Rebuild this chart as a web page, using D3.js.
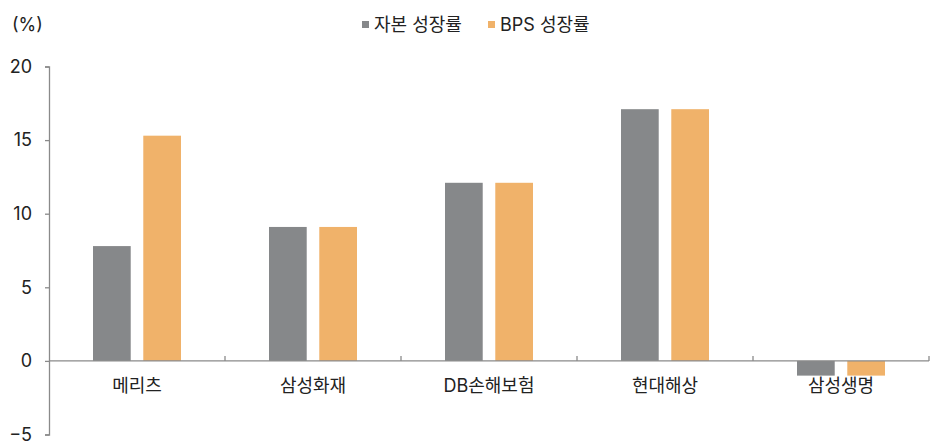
<!DOCTYPE html>
<html><head><meta charset="utf-8">
<script src="https://cdn.jsdelivr.net/npm/d3@7"></script>
<style>body{margin:0;background:#fff;} text{font-family:"Inter","Noto Sans CJK KR",sans-serif;}</style>
</head><body>
<svg id="c" width="933" height="442"></svg>
<script>
const categories = ["메리츠","삼성화재","DB손해보험","현대해상","삼성생명"];
const seriesNames = ["자본 성장률","BPS 성장률"];
const capitalGrowth = [7.8, 9.1, 12.1, 17.1, -1.0];
const bpsGrowth = [15.3, 9.1, 12.1, 17.1, -1.0];
const yTicks = [20, 15, 10, 5, 0, -5];
const colors = ["#86888a", "#f0b26a"];

(function () {
const svg = d3.select("#c");
const FONT = "Inter,'Noto Sans CJK KR',sans-serif";
const mLeft = 49, mRight = 929, mTop = 66.5, mBottom = 434.5;
const y = d3.scaleLinear().domain([-5, 20]).range([mBottom, mTop]);
const x0 = d3.scaleBand().domain(categories).range([mLeft, mRight]).paddingInner(0.5).paddingOuter(0.25);
const x1 = d3.scaleBand().domain(seriesNames).range([0, x0.bandwidth()]).paddingInner(0.25).paddingOuter(0);
const seriesVals = [capitalGrowth, bpsGrowth];

// bars
seriesNames.forEach((s, si) => {
  svg.append("g").selectAll("rect").data(categories).join("rect")
    .attr("x", (c) => x0(c) + x1(s))
    .attr("width", x1.bandwidth())
    .attr("y", (c, i) => y(Math.max(0, seriesVals[si][i])))
    .attr("height", (c, i) => Math.abs(y(seriesVals[si][i]) - y(0)))
    .attr("fill", colors[si]);
});

// y axis
const ya = svg.append("g").attr("transform", `translate(${mLeft},0)`)
  .call(d3.axisLeft(y).tickValues(yTicks).tickSize(4).tickPadding(13).tickFormat(d => d < 0 ? "\u2212" + Math.abs(d) : d));
ya.select(".domain").attr("stroke", "#8a8a8a").attr("stroke-width", 1.3);
ya.selectAll(".tick line").attr("stroke", "#8a8a8a").attr("stroke-width", 1.3);
ya.selectAll("text").attr("fill", "#222").style("font-size", "18px").style("font-family", FONT);

// x axis at zero
const xb = svg.append("g").attr("transform", `translate(0,${y(0)})`);
xb.append("line").attr("x1", mLeft).attr("x2", mRight).attr("stroke", "#8a8a8a").attr("stroke-width", 1.3);
const bounds = categories.map(c => x0(c) + x0.bandwidth() / 2 + x0.step() / 2);
xb.selectAll("line.t").data(bounds).join("line").attr("class", "t")
  .attr("x1", d => d).attr("x2", d => d).attr("y1", 0).attr("y2", -5)
  .attr("stroke", "#8a8a8a").attr("stroke-width", 1.3);
xb.selectAll("text").data(categories).join("text")
  .attr("x", c => x0(c) + x0.bandwidth() / 2).attr("y", 31)
  .attr("text-anchor", "middle").attr("fill", "#222").style("font-size", "18px")
  .text(c => c);

// unit label
svg.append("text").attr("x", 12).attr("y", 31).attr("fill", "#222").style("font-size", "18px").text("(%)");

// legend
const legX = [362, 488];
seriesNames.forEach((s, i) => {
  svg.append("rect").attr("x", legX[i]).attr("y", 21).attr("width", 7).attr("height", 7).attr("fill", colors[i]);
  svg.append("text").attr("x", legX[i] + 12).attr("y", 31).attr("fill", "#222").style("font-size", "18px").text(s);
});
})();
</script>
</body></html>
